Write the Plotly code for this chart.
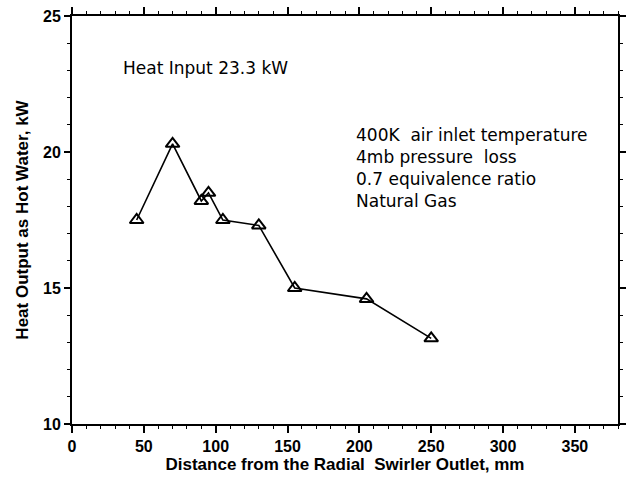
import plotly.graph_objects as go

# Data
distance_mm = [45, 70, 90, 95, 105, 130, 155, 205, 250]
heat_output_kw = [17.5, 20.3, 18.2, 18.5, 17.5, 17.3, 15.0, 14.6, 13.15]

x_tick_vals = [0, 50, 100, 150, 200, 250, 300, 350]
y_tick_vals = [10, 15, 20, 25]

note_title = "Heat Input 23.3 kW"
note_lines = ["400K  air inlet temperature", "4mb pressure  loss",
              "0.7 equivalence ratio", "Natural Gas"]

fig = go.Figure()
fig.add_trace(go.Scatter(
    x=distance_mm, y=heat_output_kw, mode="lines+markers",
    line=dict(color="black", width=1.6),
    marker=dict(symbol="triangle-up-open", size=12, color="black",
                line=dict(color="black", width=2)),
    showlegend=False,
))

axis_font = dict(family="Liberation Sans, Arial", size=17, color="black")

fig.update_xaxes(
    range=[0, 380], tickvals=x_tick_vals, showgrid=False, zeroline=False,
    showline=True, linecolor="black", linewidth=2, mirror="ticks",
    ticks="outside", ticklen=7, tickwidth=1.5, tickcolor="black",
    minor=dict(dtick=10, tick0=0, ticks="outside", ticklen=3, tickcolor="black", tickwidth=1),
    tickfont=dict(family="Liberation Sans, Arial", size=16, color="black", weight="bold"),
    title=dict(text="<b>Distance from the Radial  Swirler Outlet, mm</b>",
               font=axis_font, standoff=3),
)
fig.update_yaxes(
    range=[10, 25], tickvals=y_tick_vals, showgrid=False, zeroline=False,
    showline=True, linecolor="black", linewidth=2, mirror="ticks",
    ticks="outside", ticklen=6, tickwidth=1.5, tickcolor="black",
    minor=dict(dtick=1, tick0=10, ticks="outside", ticklen=3, tickcolor="black", tickwidth=1),
    tickfont=dict(family="Liberation Sans, Arial", size=16, color="black", weight="bold"),
    title=dict(text="<b>Heat Output as Hot Water, kW</b>", font=axis_font, standoff=10),
)

fig.add_annotation(x=34, y=23.1, xref="x", yref="y", text=note_title,
                   showarrow=False, xanchor="left", yanchor="middle",
                   font=dict(family="DejaVu Sans", size=17, color="black"))
fig.add_annotation(x=196, y=21.05, xref="x", yref="y", text="<br>".join(note_lines),
                   showarrow=False, xanchor="left", yanchor="top", align="left",
                   font=dict(family="DejaVu Sans", size=17, color="black"))

fig.update_layout(
    width=631, height=478, autosize=False,
    margin=dict(l=72, r=5, t=16, b=54),
    paper_bgcolor="white", plot_bgcolor="white",
)

fig.write_html("out.html")
